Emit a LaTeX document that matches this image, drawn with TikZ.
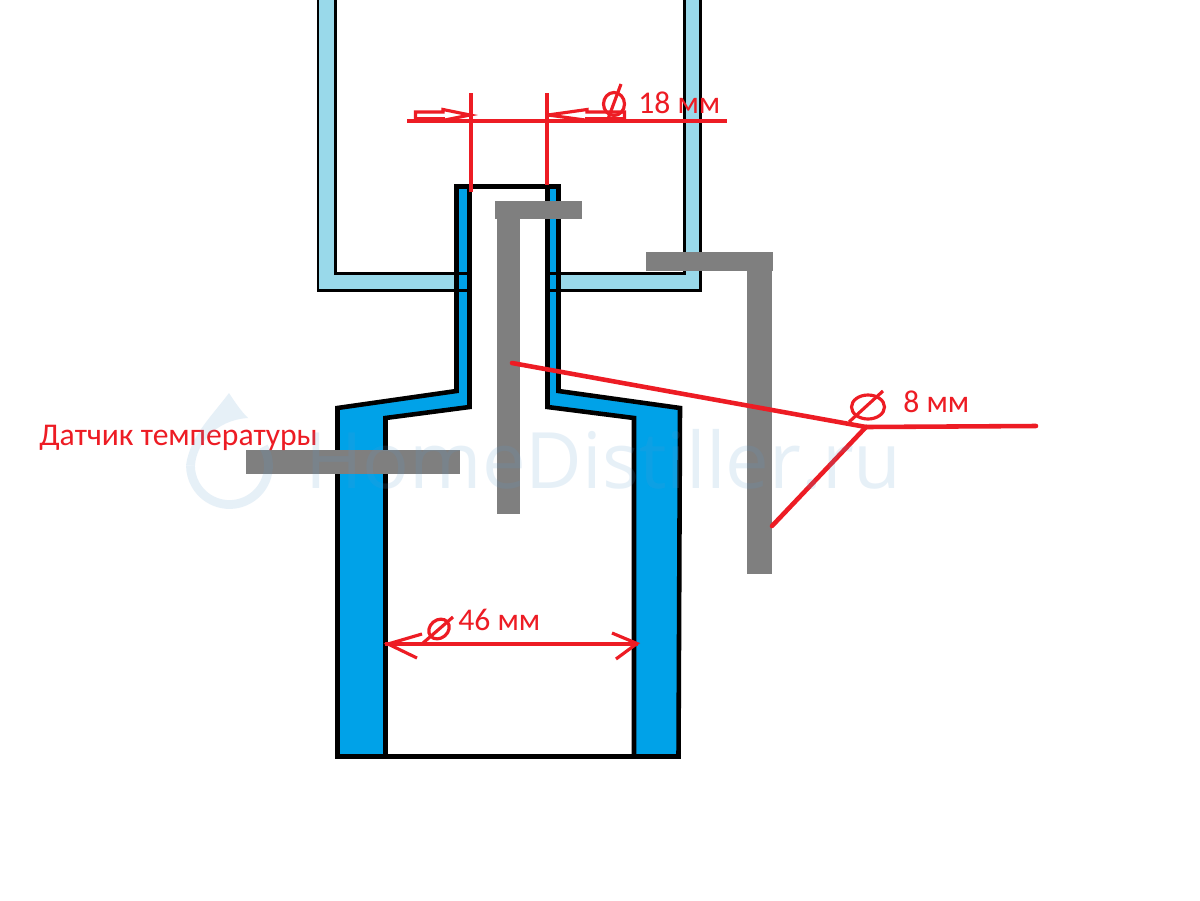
\documentclass[tikz,border=0pt]{standalone}
\usepackage{fontspec}
\setmainfont{Carlito}
\newfontfamily\markfont{Open Sans}
\definecolor{tankblue}{HTML}{99D9EA}
\definecolor{jacketblue}{HTML}{00A2E8}
\definecolor{tubegray}{HTML}{7F7F7F}
\definecolor{dimred}{HTML}{ED1C24}
\definecolor{markblue}{HTML}{5B9BD0}
\tikzset{
  tankwall/.style={draw=black,line width=1.7pt,fill=tankblue},
  jacket/.style={draw=black,line width=2.6pt,fill=jacketblue,line join=miter},
  tube/.style={fill=tubegray},
  dimline/.style={draw=dimred,line width=1.8pt},
  leader/.style={draw=dimred,line width=2.6pt,line cap=round},
  dimtext/.style={text=dimred,font=\fontsize{18}{21}\selectfont,inner sep=0pt,anchor=base west},
}
\begin{document}
\begin{tikzpicture}[x=0.02cm,y=-0.02cm]
        \useasboundingbox (0,0) rectangle (1200,900);
        \fill[white] (0,0) rectangle (1200,900);

        % upper tank
        \path[tankwall] (318,-5) -- (318,290.5) -- (470,290.5) -- (470,273) -- (335.5,273) -- (335.5,-5) -- cycle;
        \path[tankwall] (700,-5) -- (700,290.5) -- (547,290.5) -- (547,273) -- (684.5,273) -- (684.5,-5) -- cycle;

        % jacket
        \path[jacket] (337.5,408) -- (456.5,391) -- (456.5,186.5) -- (469.5,186.5) -- (469.5,407) -- (385.5,418) -- (385.5,756.5) -- (337.5,756.5) -- cycle;
        \path[jacket] (680,408) -- (558.5,391) -- (558.5,186.5) -- (547.5,186.5) -- (547.5,407) -- (634,418) -- (634,756.5) -- (678.5,756.5) -- cycle;
        \draw[line width=2.8pt] (454,186.5) -- (561,186.5);
        \draw[line width=2.8pt] (335,756.5) -- (681,756.5);
        \draw[line width=1.7pt] (456,273) -- (470,273);
        \draw[line width=1.7pt] (456,290.5) -- (470,290.5);
        \draw[line width=1.7pt] (547,273) -- (559,273);
        \draw[line width=1.7pt] (547,290.5) -- (559,290.5);

        % tubes
        \fill[tube] (495,201) rectangle (582,219);
        \fill[tube] (497,201) rectangle (520,514);
        \fill[tube] (646,252) rectangle (773,271);
        \fill[tube] (747,252) rectangle (772,574);
        \fill[tube] (246,450) rectangle (460,474);

        % 18 mm
        \draw[dimline] (407,121) -- (727,121);
        \draw[dimline] (471,93) -- (471,192);
        \draw[dimline] (547,93) -- (547,185);
        \draw[dimline] (415.5,120) -- (415.5,112) -- (443,112) -- (443,109.5) -- (470,115) -- (445,120);
        \draw[dimline] (415.5,118.5) -- (445,118.5);
        \draw[dimline] (548,115) -- (587,109.5) -- (587,112) -- (624.5,112) -- (624.5,120);
        \draw[dimline] (548,115) -- (585,120);
        \draw[dimline] (585,118.5) -- (624.5,118.5);
        \draw[dimline] (614,104) circle [x radius=10.5,y radius=11.5];
        \draw[dimline] (621,84) -- (608,119);
        \node[dimtext] (labeltop) at (638,113) {18 мм};

        % 46 mm
        \draw[dimline] (385,644) -- (638,644);
        \draw[dimline] (422,634) -- (388,644) -- (417,658);
        \draw[dimline] (612,633) -- (637,643.5) -- (616,659);
        \draw[dimline,rotate around={40:(439,629)}] (439,629) circle [x radius=11,y radius=9];
        \draw[dimline] (453,617) -- (423,643);
        \node[dimtext] (labelbore) at (458,630) {46 мм};

        % 8 mm
        \coordinate (tubein) at (512,363);
        \coordinate (tubeout) at (772,526);
        \coordinate (junction) at (866,427);
        \coordinate (shelf) at (1036,426);
        \draw[leader] (tubein) -- (junction);
        \draw[leader] (tubeout) -- (junction);
        \draw[leader] (junction) -- (shelf);
        \draw[dimline] (868,407) circle [x radius=16.5,y radius=12];
        \draw[dimline] (883,391) -- (849,422);
        \node[dimtext] (labeltube) at (903,412) {8 мм};

        \node[dimtext] (labelsensor) at (39,445) {Датчик температуры};

        % watermark
        \begin{scope}[opacity=0.15,transparency group]
        \node[inner sep=0pt,anchor=base west,text=markblue,font=\markfont\fontsize{44.3}{50}\selectfont] (watermark) at (305,488) {HomeDistiller.ru};
        \draw[markblue,line width=5pt] (263.6,446.6) arc [start angle=-29,end angle=180,radius=39];
        \fill[markblue] (229,393) .. controls (212,416) and (190,436) .. (186,465.5) -- (195,465.5) .. controls (196,445) and (215,420) .. (248,418) .. controls (240,410) and (235,402) .. (229,393);
        \end{scope}
    \end{tikzpicture}
\end{document}
